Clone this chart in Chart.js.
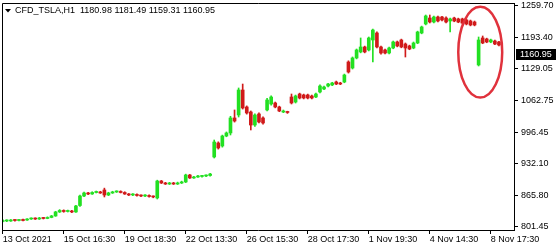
<!DOCTYPE html>
<html>
<head>
<meta charset="utf-8">
<script src="https://cdn.jsdelivr.net/npm/chart.js@4.4.1/dist/chart.umd.min.js"></script>
<style>
    html, body { margin: 0; padding: 0; background: #ffffff; }
    #wrap { width: 556px; height: 250px; position: relative; }
</style>
</head>
<body>
<div id="wrap"><canvas id="grafico"></canvas></div>
<script>
/* Dados das velas H1 */
const opens = [
    812.8, 813.9, 813.9, 815.9, 814.9, 817.0, 815.9, 818.0, 819.1, 818.0,
    820.1, 819.1, 821.2, 824.3, 832.6, 835.7, 833.6, 834.6, 832.6, 846.0,
    865.7, 872.0, 869.9, 873.0, 874.1, 878.2, 867.8, 872.0, 874.1, 875.1,
    873.0, 869.9, 867.8, 868.9, 866.8, 865.7, 866.8, 864.7, 861.6, 896.8,
    892.7, 890.6, 892.7, 890.6, 892.7, 894.8, 909.3, 903.1, 905.1, 906.2,
    907.2, 908.2, 946.6, 975.6, 969.4, 990.1, 996.4, 1027.5, 1033.7, 1085.5,
    1050.3, 1039.9, 1012.9, 1035.8, 1027.5, 1044.1, 1056.5, 1058.6, 1050.3, 1039.9,
    1039.9, 1071.0, 1060.6, 1077.2, 1075.2, 1075.2, 1073.1, 1071.0, 1081.4, 1087.6,
    1093.8, 1095.9, 1102.1, 1100.0, 1102.1, 1143.6, 1131.1, 1151.9, 1164.4, 1174.7,
    1168.5, 1189.2, 1203.7, 1174.7, 1168.5, 1162.2, 1172.6, 1185.1, 1189.2, 1180.9,
    1176.8, 1172.6, 1183.0, 1203.7, 1222.4, 1234.8, 1226.5, 1236.9, 1236.9, 1234.8,
    1228.6, 1234.8, 1232.8, 1232.8, 1230.7, 1228.6, 1226.5, 1137.4, 1193.4, 1191.3,
    1185.1, 1187.1, 1185.1
];
const highs = [
    817.0, 816.5, 817.0, 817.0, 817.5, 818.0, 819.0, 820.5, 820.5, 821.5,
    821.5, 822.5, 825.5, 834.0, 837.5, 837.0, 836.5, 836.0, 846.5, 867.5,
    874.0, 873.5, 874.5, 876.0, 875.5, 882.0, 873.5, 875.5, 876.5, 876.5,
    874.5, 871.0, 870.5, 870.0, 868.0, 868.5, 868.0, 866.0, 898.5, 898.0,
    894.0, 894.0, 894.0, 894.5, 896.5, 911.0, 910.5, 906.5, 908.5, 908.5,
    909.5, 912.5, 981.8, 978.0, 992.0, 998.5, 1031.0, 1044.1, 1089.7, 1097.9,
    1052.5, 1042.0, 1036.0, 1038.0, 1030.0, 1068.0, 1073.5, 1060.5, 1052.0, 1044.0,
    1041.5, 1077.2, 1075.0, 1079.0, 1077.0, 1077.0, 1075.0, 1079.0, 1096.0, 1093.5,
    1099.5, 1101.5, 1104.0, 1101.5, 1118.5, 1146.0, 1154.0, 1170.5, 1193.4, 1176.5,
    1195.4, 1212.0, 1206.0, 1176.5, 1170.5, 1174.5, 1187.0, 1187.0, 1191.0, 1183.0,
    1178.5, 1185.0, 1207.5, 1218.0, 1241.0, 1241.0, 1239.0, 1239.0, 1238.5, 1237.0,
    1234.5, 1236.5, 1234.5, 1234.5, 1232.5, 1230.5, 1228.5, 1195.4, 1197.5, 1193.0,
    1191.0, 1189.0, 1186.5
];
const lows = [
    811.8, 812.5, 813.0, 813.5, 814.0, 814.0, 815.0, 817.0, 817.0, 817.0,
    818.0, 818.5, 820.5, 823.5, 831.5, 832.0, 832.5, 831.0, 831.5, 844.0,
    864.5, 868.5, 869.0, 872.0, 871.0, 863.7, 866.5, 871.0, 873.0, 872.0,
    869.0, 866.5, 866.5, 865.5, 864.5, 864.5, 863.5, 862.0, 859.5, 891.5,
    889.5, 889.5, 889.5, 889.5, 891.5, 893.5, 902.0, 902.0, 904.0, 905.0,
    906.0, 907.0, 944.5, 963.0, 967.0, 988.5, 992.2, 1019.0, 1029.5, 1046.0,
    1035.5, 1002.6, 1010.0, 1017.0, 1014.5, 1042.0, 1054.0, 1048.5, 1040.5, 1038.5,
    1037.0, 1056.5, 1058.5, 1067.0, 1067.0, 1067.0, 1067.0, 1069.5, 1079.5, 1086.0,
    1092.0, 1094.5, 1096.5, 1096.5, 1100.5, 1120.6, 1129.0, 1150.0, 1162.5, 1162.5,
    1166.5, 1143.6, 1172.5, 1160.0, 1160.5, 1160.5, 1171.0, 1175.0, 1173.0, 1153.9,
    1169.0, 1171.0, 1181.5, 1202.0, 1220.5, 1224.5, 1224.5, 1226.5, 1229.0, 1224.5,
    1205.8, 1227.0, 1225.0, 1222.5, 1220.5, 1218.5, 1218.5, 1135.3, 1181.5, 1183.5,
    1183.5, 1179.5, 1177.0
];
const closes = [
    814.9, 814.9, 815.9, 814.9, 815.9, 814.9, 818.0, 819.1, 818.0, 820.1,
    819.1, 821.2, 824.3, 832.6, 835.7, 833.6, 834.6, 832.6, 845.0, 865.7,
    872.0, 869.9, 873.0, 874.1, 872.0, 867.8, 872.0, 874.1, 875.1, 873.0,
    869.9, 867.8, 868.9, 866.8, 865.7, 866.8, 864.7, 863.7, 896.8, 892.7,
    890.6, 892.7, 890.6, 892.7, 894.8, 909.3, 903.1, 905.1, 907.2, 907.2,
    908.2, 911.3, 977.7, 965.3, 990.1, 996.4, 1027.5, 1021.2, 1085.5, 1048.2,
    1037.8, 1012.9, 1033.7, 1019.2, 1017.1, 1064.8, 1071.0, 1050.3, 1042.0, 1042.0,
    1038.9, 1058.6, 1073.1, 1068.9, 1068.9, 1068.9, 1068.9, 1077.2, 1093.8, 1091.7,
    1097.9, 1100.0, 1097.9, 1097.9, 1116.6, 1122.8, 1151.9, 1168.5, 1174.7, 1164.4,
    1193.4, 1209.9, 1174.7, 1162.2, 1162.2, 1172.6, 1185.1, 1176.8, 1174.7, 1172.6,
    1170.5, 1183.0, 1205.8, 1216.2, 1239.0, 1226.5, 1236.9, 1228.6, 1230.7, 1226.5,
    1232.8, 1228.6, 1226.5, 1224.4, 1222.4, 1220.3, 1220.3, 1189.2, 1183.0, 1185.1,
    1189.2, 1180.9, 1178.8
];

/* Etiquetas do eixo temporal (uma a cada 15 barras) */
const xTickLabels = ['13 Oct 2021', '15 Oct 16:30', '19 Oct 18:30', '22 Oct 13:30', '26 Oct 15:30',
    '28 Oct 17:30', '1 Nov 19:30', '4 Nov 14:30', '8 Nov 17:30'];
const xTickStep = 15;

/* Etiquetas do eixo de preços */
const yTickValues = [1259.70, 1193.40, 1129.05, 1062.75, 996.45, 932.10, 865.80, 801.45];

const symbolTitle = 'CFD_TSLA,H1';
const titleValues = ['1180.98', '1181.49', '1159.31', '1160.95'];
const lastPrice = 1160.95;

const corAlta = '#22e022';
const corBaixa = '#d01a1a';
const fonteEixo = { family: 'Liberation Sans, Arial, sans-serif', size: 9 };

document.addEventListener('DOMContentLoaded', function () {
    criarGraficoVelas();
});

/* Plugin com moldura, título, etiqueta do último preço e elipse */
const pluginMolduraMT4 = {
    id: 'molduraMT4',
    beforeDraw: function (chart) {
        const ctx = chart.ctx;
        ctx.save();
        ctx.fillStyle = '#ffffff';
        ctx.fillRect(0, 0, chart.width, chart.height);
        ctx.restore();
    },
    afterDraw: function (chart) {
        const ctx = chart.ctx;
        const area = chart.chartArea;
        const escalaX = chart.scales.x;
        const escalaY = chart.scales.y;

        ctx.save();

        // moldura esquerda e superior
        ctx.strokeStyle = '#000000';
        ctx.lineWidth = 1;
        ctx.beginPath();
        ctx.moveTo(Math.round(area.left) + 0.5, Math.round(area.bottom));
        ctx.lineTo(Math.round(area.left) + 0.5, Math.round(area.top) + 0.5);
        ctx.lineTo(Math.round(area.right), Math.round(area.top) + 0.5);
        ctx.stroke();

        // título no canto
        ctx.fillStyle = '#000000';
        ctx.beginPath();
        ctx.moveTo(5, 9);
        ctx.lineTo(11, 9);
        ctx.lineTo(8, 12.5);
        ctx.closePath();
        ctx.fill();

        ctx.font = '9px ' + fonteEixo.family;
        ctx.textBaseline = 'alphabetic';
        ctx.textAlign = 'left';
        ctx.fillText(symbolTitle + '  ' + titleValues.join(' '), 15, 13);

        // etiqueta do último preço
        const yPreco = Math.round(escalaY.getPixelForValue(lastPrice));
        ctx.fillStyle = '#000000';
        ctx.fillRect(area.right + 2, yPreco - 5, chart.width - area.right - 2, 11);
        ctx.fillStyle = '#ffffff';
        ctx.textBaseline = 'middle';
        ctx.fillText(lastPrice.toFixed(2), area.right + 6, yPreco + 0.5);

        // elipse vermelha de destaque
        const cx = escalaX.getPixelForValue(117.4);
        const cy = escalaY.getPixelForValue(1164);
        const rx = escalaX.getPixelForValue(117.4 + 5.4) - cx;
        const ry = cy - escalaY.getPixelForValue(1164 + 94);
        ctx.strokeStyle = '#e0323c';
        ctx.lineWidth = 2.5;
        ctx.beginPath();
        ctx.ellipse(cx, cy, rx, ry, 0, 0, Math.PI * 2);
        ctx.stroke();

        ctx.restore();
    }
};

/* Gráfico de velas com barras flutuantes (pavio + corpo) */
function criarGraficoVelas() {
    const canvas = document.getElementById('grafico');
    if (!canvas) return;

    const pavios = opens.map(function (o, i) {
        return { x: i, y: [lows[i], highs[i]] };
    });
    const corpos = opens.map(function (o, i) {
        return { x: i, y: [Math.min(o, closes[i]), Math.max(o, closes[i])] };
    });
    const cores = opens.map(function (o, i) {
        return closes[i] >= o ? corAlta : corBaixa;
    });

    new Chart(canvas, {
        type: 'bar',
        data: {
            datasets: [{
                label: 'Pavio',
                data: pavios,
                backgroundColor: cores,
                barThickness: 1,
                grouped: false,
                borderWidth: 0
            }, {
                label: 'Corpo',
                data: corpos,
                backgroundColor: cores,
                barThickness: 3,
                minBarLength: 1,
                grouped: false,
                borderWidth: 0
            }]
        },
        options: {
            responsive: true,
            maintainAspectRatio: false,
            animation: false,
            devicePixelRatio: 1,
            layout: {
                padding: { left: 2, top: 3, right: 0, bottom: 0 }
            },
            plugins: {
                legend: { display: false },
                tooltip: { enabled: false }
            },
            scales: {
                x: {
                    type: 'linear',
                    min: -0.17,
                    max: 125.7,
                    offset: false,
                    grid: {
                        offset: false,
                        drawOnChartArea: false,
                        tickLength: 4,
                        tickColor: '#000000'
                    },
                    border: { color: '#000000' },
                    ticks: {
                        autoSkip: false,
                        maxRotation: 0,
                        align: 'start',
                        padding: 0,
                        color: '#000000',
                        font: fonteEixo,
                        callback: function (value) {
                            return xTickLabels[Math.round(value / xTickStep)];
                        }
                    },
                    afterBuildTicks: function (scale) {
                        scale.ticks = xTickLabels.map(function (t, k) {
                            return { value: k * xTickStep };
                        });
                    },
                    afterFit: function (scale) {
                        scale.height = 20;
                        scale.paddingLeft = 0;
                        scale.paddingRight = 0;
                    }
                },
                y: {
                    type: 'linear',
                    position: 'right',
                    min: 795.2,
                    max: 1265.9,
                    grid: {
                        drawOnChartArea: false,
                        tickLength: 4,
                        tickColor: '#000000'
                    },
                    border: { color: '#000000' },
                    ticks: {
                        padding: 3,
                        color: '#000000',
                        font: fonteEixo,
                        callback: function (value) {
                            return value.toFixed(2);
                        }
                    },
                    afterBuildTicks: function (scale) {
                        scale.ticks = yTickValues.map(function (v) {
                            return { value: v };
                        });
                    },
                    afterFit: function (scale) {
                        scale.width = 42;
                        scale.paddingTop = 0;
                        scale.paddingBottom = 0;
                    }
                }
            }
        },
        plugins: [pluginMolduraMT4]
    });
}
</script>
</body>
</html>
